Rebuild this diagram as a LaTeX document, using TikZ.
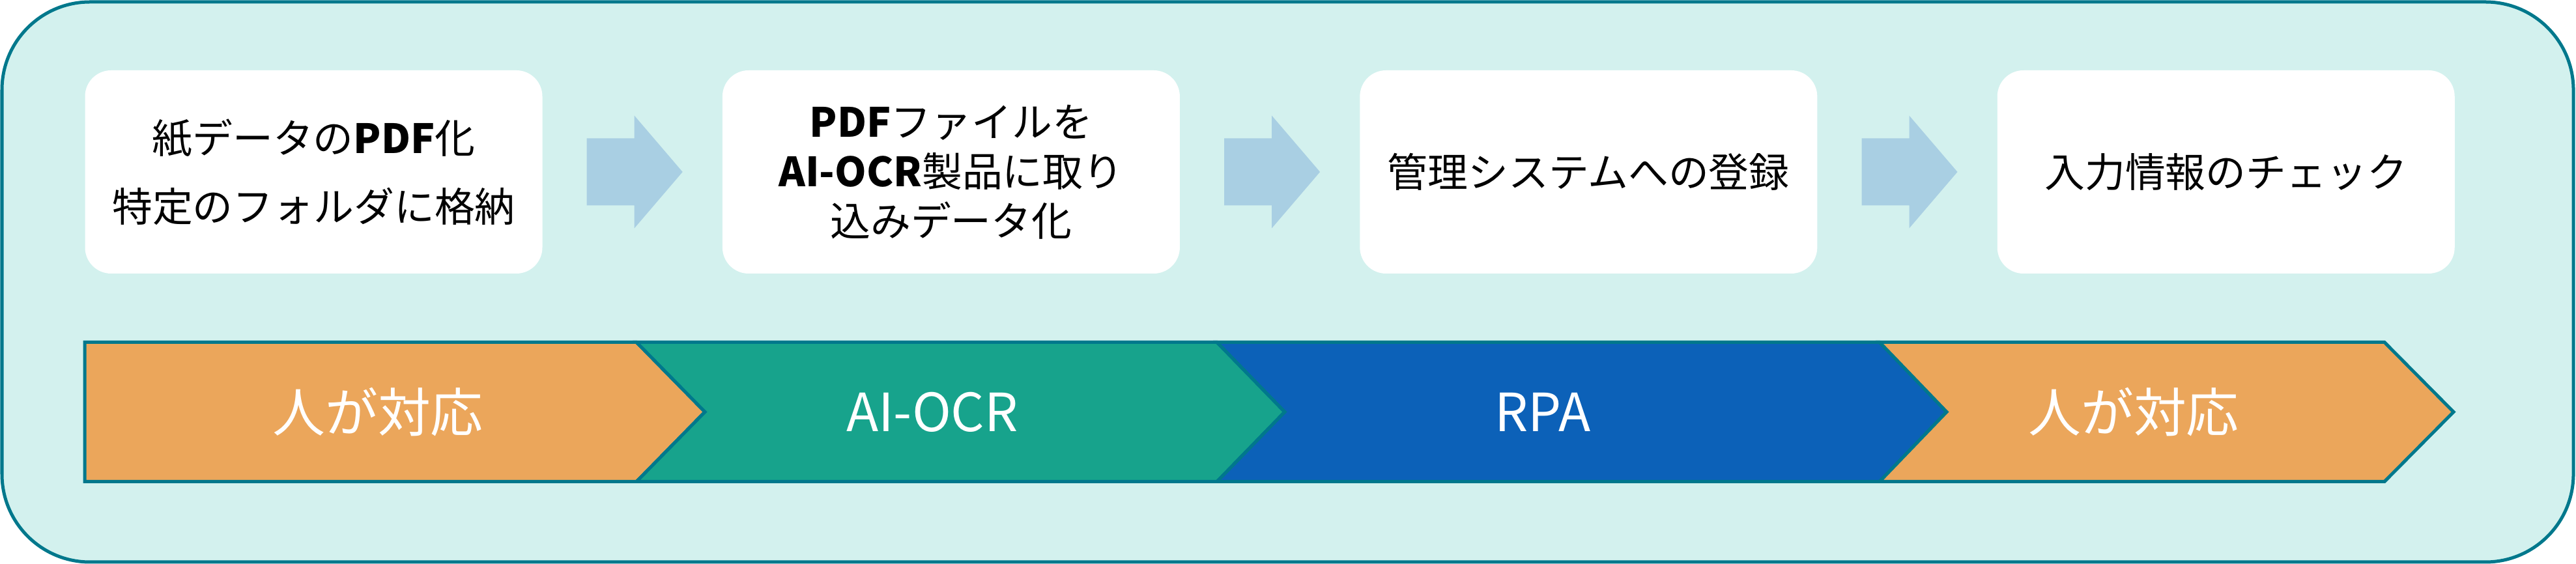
\documentclass[tikz,border=0pt]{standalone}
\usepackage{fontspec}
\usepackage{tikz}
\usetikzlibrary{positioning,calc}
\newfontfamily\jpfont{Noto Sans CJK JP}
\definecolor{panelbg}{HTML}{D3F1EE}
\definecolor{framecol}{HTML}{00788C}
\definecolor{flowcol}{HTML}{A9CFE3}
\definecolor{humancol}{HTML}{EBA65B}
\definecolor{ocrcol}{HTML}{17A38C}
\definecolor{rpacol}{HTML}{0C61B8}
\newcommand{\boxfont}{\jpfont\fontsize{17.6}{21.6}\selectfont}
\newcommand{\bandfont}{\jpfont\fontsize{23}{27}\selectfont}

\begin{document}
\begin{tikzpicture}[
    taskbox/.style={fill=white, rounded corners=0.4cm, minimum width=7.02cm,
      minimum height=3.12cm, align=center, inner sep=0pt, font=\boxfont},
    band/.style={draw=framecol, line width=0.05cm, line join=miter},
    bandlabel/.style={text=white, font=\bandfont, inner sep=0pt}
  ]
    \useasboundingbox (0,0) rectangle (39.54,8.66);
    \draw [framecol, fill=panelbg, line width=0.05cm, rounded corners=1.35cm] (0.03,0.03) rectangle (39.50,8.63);

    \node[taskbox] (paper) at (4.815,6.02) {紙データの{\bfseries PDF}化\\[8.3pt]特定のフォルダに格納};
    \node[taskbox, right=2.75cm of paper] (ocr) {{\bfseries PDF}ファイルを\\{\bfseries AI-OCR}製品に取り\\込みデータ化};
    \node[taskbox, right=2.75cm of ocr] (regist) {管理システムへの登録};
    \node[taskbox, right=2.75cm of regist] (check) {入力情報のチェック};

    \foreach \a/\b in {paper/ocr, ocr/regist, regist/check} {
      \coordinate (m) at ($(\a.east)!0.5!(\b.west)$);
      \fill [flowcol] ($(m)+(-0.70,0.515)$) -- ++(0.73,0) -- ++(0,0.35)
        -- ($(m)+(0.77,0)$) -- ($(m)+(0.03,-0.865)$) -- ++(0,0.35)
        -- ++(-0.73,0) -- cycle;
    }

    % band of who does the work
    \filldraw [band, fill=humancol] (1.30,3.405) -- (9.77,3.405) -- (10.82,2.335) -- (9.77,1.265) -- (1.30,1.265) -- cycle;
    \filldraw [band, fill=ocrcol] (9.77,3.405) -- (18.68,3.405) -- (19.72,2.335) -- (18.68,1.265) -- (9.77,1.265) -- (10.82,2.335) -- cycle;
    \filldraw [band, fill=rpacol] (18.68,3.405) -- (28.85,3.405) -- (29.88,2.335) -- (28.85,1.265) -- (18.68,1.265) -- (19.72,2.335) -- cycle;
    \filldraw [band, fill=humancol] (28.85,3.405) -- (36.60,3.405) -- (37.66,2.335) -- (36.60,1.265) -- (28.85,1.265) -- (29.88,2.335) -- cycle;

    \node[bandlabel] (human1) at (5.80,2.335) {人が対応};
    \node[bandlabel] (ailab) at (14.31,2.335) {AI-OCR};
    \node[bandlabel] (rpalab) at (23.68,2.335) {RPA};
    \node[bandlabel] (human2) at (32.75,2.335) {人が対応};
  \end{tikzpicture}
\end{document}
